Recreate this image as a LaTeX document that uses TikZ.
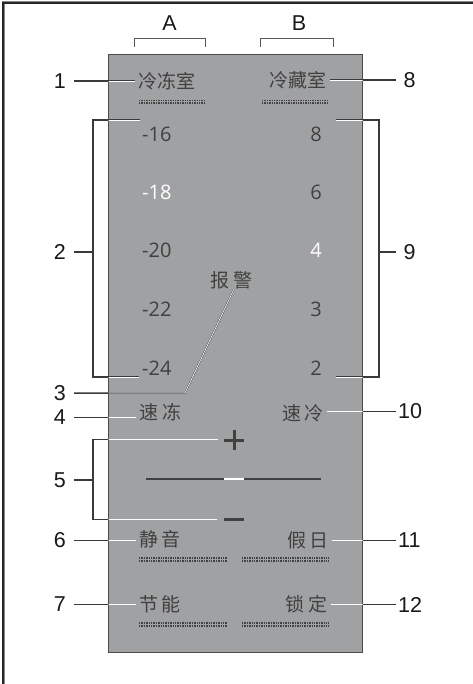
\documentclass[tikz,border=0pt]{standalone}
\usepackage{fontspec}
\setmainfont{Liberation Sans}
\newfontfamily\cjkfont{Noto Sans CJK SC}
\newfontfamily\numfont{Open Sans}
\definecolor{panelgray}{HTML}{A0A1A3}
\definecolor{inkgray}{HTML}{404040}
\definecolor{leadgray}{HTML}{3A3A3A}
\tikzset{
  lbl/.style={font=\fontsize{21.5}{21.5}\selectfont, text=black!90, inner ysep=0pt},
  lblL/.style={lbl, anchor=east, inner xsep=8pt},
  lblR/.style={lbl, anchor=west, inner xsep=7.5pt},
  lblRR/.style={lbl, anchor=west, inner xsep=2pt},
  ptxt/.style={font=\cjkfont\fontsize{19}{19}\selectfont, text=inkgray, inner ysep=0pt, inner xsep=3pt},
  pnum/.style={font=\numfont\fontsize{20}{20}\selectfont, text=inkgray, inner sep=0pt, anchor=base},
  lit/.style={pnum, text=white},
  leader/.style={draw=leadgray, line width=1.5pt},
  dotrow/.style={draw=inkgray, line width=1.5pt, dash pattern=on 1.4pt off 1.0pt},
  brk/.style={draw=leadgray!85, line width=0.9pt},
  pmark/.style={draw=inkgray, line width=3pt},
}
\newcommand{\leaderpaths}[1]{%
  \draw[#1] (l1.east) -- (t1.west);
  \draw[#1] (l8.west) -- (t8.east);
  \draw[#1] (l4.east) -- (l4.east -| t4.west);
  \draw[#1] (l10.west) -- (l10.west -| t10.east);
  \draw[#1] (l6.east) -- (l6.east -| t6.west);
  \draw[#1] (l11.west) -- (l11.west -| t11.east);
  \draw[#1] (l7.east) -- (l7.east -| t7.west);
  \draw[#1] (l12.west) -- (l12.west -| t12.east);
  \draw[#1] (l3.east) -- (k3) -- (e3);
  \draw[#1] (b2a) -- (93,120) -- (93,377) -- (b2b);
  \draw[#1] (l2.east) -- (l2.east -| 93,0);
  \draw[#1] (b9a) -- (379,120) -- (379,377) -- (b9b);
  \draw[#1] (l9.west) -- (l9.west -| 379,0);
  \draw[#1] (b5a) -- (93,439.3) -- (93,519.3) -- (b5b);
  \draw[#1] (l5.east) -- (l5.east -| 93,0);
}
\begin{document}
\begin{tikzpicture}[x=1pt,y=-1pt]
\useasboundingbox (0,0) rectangle (472,684);
% outer frame
\draw[black!45, line width=3pt] (3,690) -- (3,3) -- (480,3);
\draw[black!85, line width=1.6pt] (3,690) -- (3,3) -- (480,3);
% panel
\filldraw[fill=panelgray, draw=black!70, line width=0.9pt] (108.5,54) rectangle (362.5,652.7);
% column brackets
\draw[brk] (134,47) -- (134,38) -- (205,38) -- (205,47);
\draw[brk] (260,47) -- (260,38) -- (333,38) -- (333,47);
\node[lbl] (colA) at (169.5,23) {A};
\node[lbl] (colB) at (299,23) {B};
% panel texts
\node[ptxt, anchor=west] (t1) at (135,81) {冷冻室};
\node[ptxt, anchor=east] (t8) at (330,80) {冷藏室};
\node[ptxt] (t3) at (231.5,280) {报\hspace{4pt}警};
\node[ptxt] (t4) at (160.3,412.5) {速\hspace{4pt}冻};
\node[ptxt] (t10) at (303,413.5) {速\hspace{4pt}冷};
\node[ptxt] (t6) at (160,539.5) {静\hspace{4pt}音};
\node[ptxt] (t11) at (308,540) {假\hspace{4pt}日};
\node[ptxt] (t7) at (160,604.5) {节\hspace{4pt}能};
\node[ptxt] (t12) at (306.7,604.5) {锁\hspace{4pt}定};
% temperature numbers
\node[pnum, anchor=base west] (n16) at (142,141.5) {-16};
\node[lit, anchor=base west] (n18) at (142,199.5) {-18};
\node[pnum, anchor=base west] (n20) at (142,258) {-20};
\node[pnum, anchor=base west] (n22) at (142,316.5) {-22};
\node[pnum, anchor=base west] (n24) at (142,375) {-24};
\node[pnum] (p8) at (316,141.5) {8};
\node[pnum] (p6) at (316,199.5) {6};
\node[lit] (p4) at (316,258) {4};
\node[pnum] (p3) at (316,316.5) {3};
\node[pnum] (p2) at (316,375) {2};
% dotted strips
\foreach \xa/\xb/\ya in {139/206/100.3, 262/329/100.3, 139/227/558.2, 242/329/558.2, 139/227/623.2, 242/329/623.2}{
  \draw[dotrow] (\xa,\ya) -- (\xb,\ya);
  \draw[dotrow] (\xa,\ya+2.8) -- (\xb,\ya+2.8);
}
% plus, slider, minus
\draw[pmark] (224,440) -- (244,440) (234,430) -- (234,450);
\draw[inkgray, line width=2.5pt] (146,479) -- (321,479);
\draw[white, line width=2.5pt] (224,479) -- (244,479);
\draw[inkgray, line width=3.5pt] (224,519.3) -- (244,519.3);
% callout labels
\node[lblL] (l1) at (74,81) {1};
\node[lblL] (l2) at (74,252) {2};
\node[lblL] (l3) at (74,393) {3};
\node[lblL] (l4) at (74,417.5) {4};
\node[lblL] (l5) at (74,480) {5};
\node[lblL] (l6) at (74,540.5) {6};
\node[lblL] (l7) at (74,604.5) {7};
\node[lblR] (l8) at (396,80) {8};
\node[lblR] (l9) at (396,252) {9};
\node[lblRR] (l10) at (396,411.5) {10};
\node[lblRR] (l11) at (396,540.5) {11};
\node[lblRR] (l12) at (396,604.5) {12};
% leader coordinates
\coordinate (k3) at (185,393);
\coordinate (e3) at (234,289);
\coordinate (b2a) at (140,120);
\coordinate (b2b) at (139,377);
\coordinate (b9a) at (336,120);
\coordinate (b9b) at (336,377);
\coordinate (b5a) at (218,439.3);
\coordinate (b5b) at (217,519.3);
% leaders
\leaderpaths{leader}
\begin{scope}
  \clip (108.5,54) rectangle (362.5,652.7);
  \leaderpaths{draw=white, line width=0.7pt}
\end{scope}
\end{tikzpicture}
\end{document}
